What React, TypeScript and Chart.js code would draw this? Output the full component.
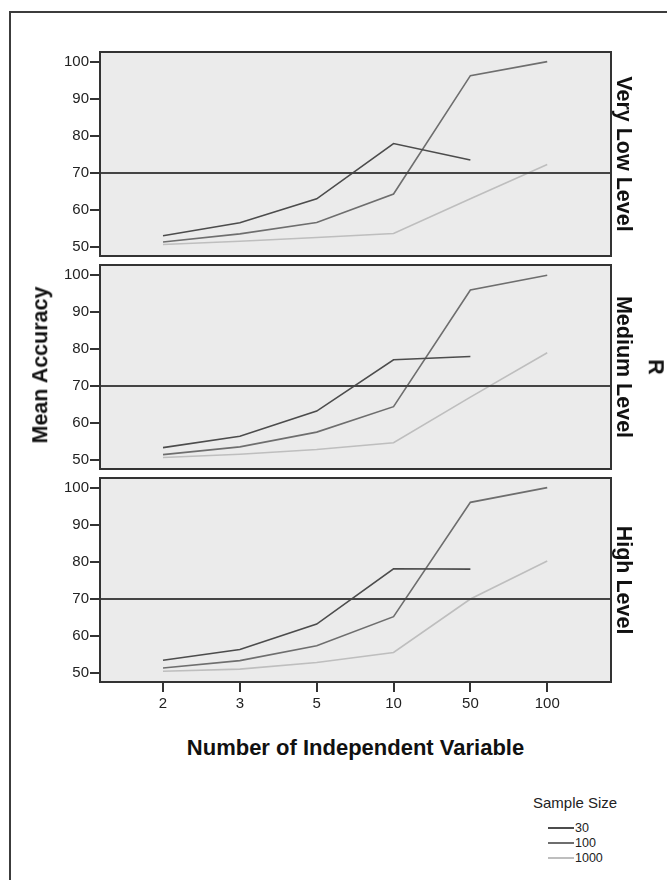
import React, { useEffect, useRef } from 'react';
import { Chart, registerables } from 'chart.js';

Chart.register(...registerables);

// ---------- data ----------
const CATEGORIES = ['2', '3', '5', '10', '50', '100'];
const Y_TICKS = [50, 60, 70, 80, 90, 100];
const REF_LINE = 70;
const SERIES_NAMES = ['30', '100', '1000'];
const PANEL_NAMES = ['Very Low Level', 'Medium Level', 'High Level'];

// Very Low Level
const VERYLOW_30 = [53, 56.5, 63, 78, 73.5, null];
const VERYLOW_100 = [51.3, 53.5, 56.6, 64.3, 96.4, 100.2];
const VERYLOW_1000 = [50.6, 51.5, 52.5, 53.6, 63, 72.3];
// Medium Level
const MEDIUM_30 = [53.3, 56.4, 63.2, 77.1, 78, null];
const MEDIUM_100 = [51.4, 53.5, 57.5, 64.4, 96, 100];
const MEDIUM_1000 = [50.6, 51.5, 52.8, 54.6, 67, 79];
// High Level
const HIGH_30 = [53.4, 56.3, 63.2, 78.2, 78.1, null];
const HIGH_100 = [51.3, 53.3, 57.3, 65.2, 96.2, 100.2];
const HIGH_1000 = [50.4, 51, 52.8, 55.5, 70, 80.3];

const PANEL_DATA = [
  [VERYLOW_30, VERYLOW_100, VERYLOW_1000],
  [MEDIUM_30, MEDIUM_100, MEDIUM_1000],
  [HIGH_30, HIGH_100, HIGH_1000],
];

// ---------- styles ----------
const FONT = '"Liberation Sans", Arial, Helvetica, sans-serif';
const SERIES_COLORS = ['#4c4c4c', '#6e6e6e', '#bebebe'];
const PANEL_BG = '#ebebeb';
const FRAME = '#333333';

const PANEL_LAYOUT = [
  { top: 40, height: 230, padTop: 12, padBottom: 14, showX: false },
  { top: 253, height: 230, padTop: 12, padBottom: 14, showX: false },
  { top: 466, height: 262, padTop: 12, padBottom: 0, showX: true },
];

const panelPlugin = {
  id: 'panelFrame',
  beforeDraw(chart: any) {
    const { ctx, chartArea: a } = chart;
    ctx.save();
    ctx.fillStyle = PANEL_BG;
    ctx.fillRect(a.left, a.top, a.right - a.left, a.bottom - a.top);
    ctx.restore();
  },
  afterDatasetsDraw(chart: any) {
    const { ctx, chartArea: a, scales } = chart;
    const y = scales.y.getPixelForValue(REF_LINE);
    ctx.save();
    ctx.strokeStyle = '#444444';
    ctx.lineWidth = 2;
    ctx.beginPath();
    ctx.moveTo(a.left, y);
    ctx.lineTo(a.right, y);
    ctx.stroke();
    ctx.restore();
  },
  afterDraw(chart: any) {
    const { ctx, chartArea: a } = chart;
    ctx.save();
    ctx.strokeStyle = FRAME;
    ctx.lineWidth = 2;
    ctx.strokeRect(a.left, a.top, a.right - a.left, a.bottom - a.top);
    ctx.restore();
  },
};

function Panel({ index }: { index: number }) {
  const ref = useRef<HTMLCanvasElement | null>(null);
  const lay = PANEL_LAYOUT[index];
  useEffect(() => {
    if (!ref.current) return;
    const series = PANEL_DATA[index];
    const chart = new Chart(ref.current, {
      type: 'line',
      data: {
        datasets: series.map((vals, si) => ({
          label: SERIES_NAMES[si],
          data: vals
            .map((v, i) => ({ x: i, y: v }))
            .filter((p) => p.y !== null) as any,
          borderColor: SERIES_COLORS[si],
          backgroundColor: SERIES_COLORS[si],
          borderWidth: 1.6,
          pointRadius: 0,
          fill: false,
          tension: 0,
        })),
      },
      options: {
        animation: false,
        responsive: false,
        maintainAspectRatio: false,
        layout: { padding: { left: 0, right: 56, top: lay.padTop, bottom: lay.padBottom } },
        plugins: { legend: { display: false }, tooltip: { enabled: false } },
        scales: {
          x: {
            type: 'linear',
            display: lay.showX,
            min: -0.82,
            max: 5.83,
            afterBuildTicks: (s: any) => {
              s.ticks = CATEGORIES.map((_, i) => ({ value: i }));
            },
            afterFit: (s: any) => {
              if (lay.showX) s.height = 46;
            },
            ticks: {
              callback: (v: any) => CATEGORIES[v],
              font: { family: FONT, size: 15 },
              color: '#222',
              padding: 3,
              maxRotation: 0,
            },
            grid: { drawOnChartArea: false, tickLength: 10, color: FRAME, lineWidth: 2 },
            border: { display: false },
          },
          y: {
            type: 'linear',
            min: 47.5,
            max: 102.8,
            afterBuildTicks: (s: any) => {
              s.ticks = Y_TICKS.map((v) => ({ value: v }));
            },
            afterFit: (s: any) => {
              s.width = 100;
            },
            ticks: {
              font: { family: FONT, size: 15 },
              color: '#222',
              padding: 1,
            },
            grid: { drawOnChartArea: false, tickLength: 10, color: FRAME, lineWidth: 2 },
            border: { display: false },
          },
        },
      },
      plugins: [panelPlugin],
    } as any);
    return () => chart.destroy();
  }, [index]);
  return (
    <canvas
      ref={ref}
      width={667}
      height={lay.height}
      style={{ position: 'absolute', left: 0, top: lay.top, width: 667, height: lay.height, display: 'block' }}
    />
  );
}

function RotText({ text, cx, cy, deg, size }: { text: string; cx: number; cy: number; deg: number; size: number }) {
  return (
    <div
      style={{
        position: 'absolute',
        left: cx,
        top: cy,
        transform: `translate(-50%, -50%) rotate(${deg}deg)`,
        fontFamily: FONT,
        fontWeight: 'bold',
        fontSize: size,
        lineHeight: 1,
        whiteSpace: 'nowrap',
        color: '#111',
      }}
    >
      {text}
    </div>
  );
}

const PANEL_LABEL_POS = [
  { cx: 623, cy: 154 },
  { cx: 623, cy: 367 },
  { cx: 623, cy: 580 },
];

export default function App() {
  return (
    <div
      style={{
        position: 'absolute',
        left: 0,
        top: 0,
        width: 667,
        height: 880,
        background: '#fff',
        overflow: 'hidden',
      }}
    >
      <div
        style={{
          position: 'absolute',
          left: 9,
          top: 11,
          right: 0,
          bottom: 0,
          borderTop: '2px solid #3c3c3c',
          borderLeft: '2px solid #3c3c3c',
        }}
      />
      {PANEL_NAMES.map((_, i) => (
        <Panel key={i} index={i} />
      ))}
      {PANEL_NAMES.map((name, i) => (
        <RotText key={name} text={name} cx={PANEL_LABEL_POS[i].cx} cy={PANEL_LABEL_POS[i].cy} deg={90} size={21.5} />
      ))}
      <RotText text="Mean Accuracy" cx={41} cy={365} deg={-90} size={21.5} />
      <RotText text="R" cx={655} cy={367} deg={90} size={21.5} />
      <div
        style={{
          position: 'absolute',
          left: 355.5,
          top: 748,
          transform: 'translate(-50%, -50%)',
          fontFamily: FONT,
          fontWeight: 'bold',
          fontSize: 22,
          lineHeight: 1,
          whiteSpace: 'nowrap',
          color: '#111',
        }}
      >
        Number of Independent Variable
      </div>
      <div
        style={{
          position: 'absolute',
          left: 533,
          top: 795,
          fontFamily: FONT,
          fontSize: 15,
          lineHeight: 1,
          whiteSpace: 'nowrap',
          color: '#222',
        }}
      >
        Sample Size
      </div>
      {SERIES_NAMES.map((name, i) => (
        <div
          key={name}
          style={{
            position: 'absolute',
            left: 548,
            top: 828 + i * 15 - 7,
            height: 14,
            display: 'flex',
            alignItems: 'center',
            fontFamily: FONT,
            fontSize: 12.5,
            lineHeight: 1,
            color: '#222',
          }}
        >
          <div style={{ width: 26, height: 1.5, background: SERIES_COLORS[i], marginRight: 1 }} />
          <span>{name}</span>
        </div>
      ))}
    </div>
  );
}
